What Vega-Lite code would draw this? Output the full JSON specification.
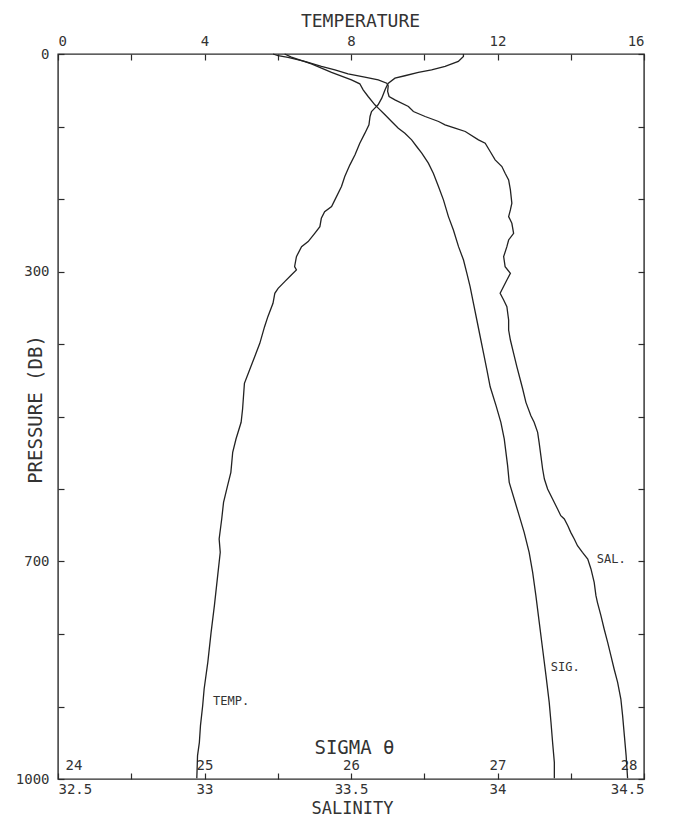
{
  "$schema": "https://vega.github.io/schema/vega-lite/v6.json",
  "width": 586,
  "height": 725,
  "autosize": {"type": "none"},
  "padding": {"left": 58, "top": 54, "right": 30, "bottom": 38},
  "background": "white",
  "config": {
    "view": {"stroke": "#2b2b2b", "strokeWidth": 1.4},
    "axis": {
      "domain": false,
      "grid": false,
      "tickColor": "#2b2b2b",
      "tickWidth": 1.2,
      "labelFont": "DejaVu Sans Mono",
      "labelFontSize": 14,
      "labelColor": "#333333",
      "labelOverlap": false,
      "titleFont": "DejaVu Sans Mono",
      "titleFontSize": 19,
      "titleFontWeight": "normal",
      "titleColor": "#333333"
    },
    "line": {"stroke": "#222222", "strokeWidth": 1.3}
  },
  "datasets": {
    "temperature": [
      {"p": 0, "t": 11.07}, {"p": 3.4, "t": 11.07}, {"p": 10.3, "t": 10.93}, {"p": 17.2, "t": 10.57},
      {"p": 21.8, "t": 10.2}, {"p": 25.4, "t": 9.84}, {"p": 30, "t": 9.47}, {"p": 33.3, "t": 9.2},
      {"p": 40.2, "t": 9.02}, {"p": 44.8, "t": 8.97}, {"p": 49.4, "t": 8.93}, {"p": 60.9, "t": 8.84},
      {"p": 70.1, "t": 8.74}, {"p": 74.7, "t": 8.65}, {"p": 79.3, "t": 8.56}, {"p": 86.2, "t": 8.52},
      {"p": 97.7, "t": 8.49}, {"p": 109.2, "t": 8.38}, {"p": 123, "t": 8.24}, {"p": 139.1, "t": 8.11},
      {"p": 152.9, "t": 7.97}, {"p": 169, "t": 7.83}, {"p": 182.8, "t": 7.74}, {"p": 201.2, "t": 7.56},
      {"p": 210.4, "t": 7.47}, {"p": 217.4, "t": 7.28}, {"p": 226.6, "t": 7.19}, {"p": 238.1, "t": 7.15},
      {"p": 247.3, "t": 7.01}, {"p": 258.8, "t": 6.83}, {"p": 265.7, "t": 6.65}, {"p": 279.5, "t": 6.51},
      {"p": 293.3, "t": 6.46}, {"p": 297.9, "t": 6.51}, {"p": 304.8, "t": 6.37}, {"p": 314, "t": 6.19},
      {"p": 323.2, "t": 6.01}, {"p": 330.1, "t": 5.92}, {"p": 343.9, "t": 5.87}, {"p": 362.3, "t": 5.73},
      {"p": 376.1, "t": 5.64}, {"p": 399.1, "t": 5.51}, {"p": 417.5, "t": 5.37}, {"p": 435.9, "t": 5.23},
      {"p": 454.3, "t": 5.09}, {"p": 489.7, "t": 5.04}, {"p": 508, "t": 5.0}, {"p": 531, "t": 4.86},
      {"p": 549.4, "t": 4.77}, {"p": 577, "t": 4.72}, {"p": 595.4, "t": 4.63}, {"p": 618.4, "t": 4.52},
      {"p": 641.4, "t": 4.47}, {"p": 669, "t": 4.4}, {"p": 687.4, "t": 4.43}, {"p": 719.5, "t": 4.36},
      {"p": 760.9, "t": 4.27}, {"p": 797.7, "t": 4.18}, {"p": 839.1, "t": 4.09}, {"p": 875.9, "t": 3.99},
      {"p": 898.9, "t": 3.95}, {"p": 926.4, "t": 3.89}, {"p": 949.4, "t": 3.86}, {"p": 967.8, "t": 3.81},
      {"p": 999, "t": 3.79}
    ],
    "salinity": [
      {"p": 0, "s": 33.234}, {"p": 2.4, "s": 33.251}, {"p": 4.7, "s": 33.285}, {"p": 10.3, "s": 33.342},
      {"p": 17.2, "s": 33.399}, {"p": 21.8, "s": 33.445}, {"p": 27.3, "s": 33.49}, {"p": 31.9, "s": 33.547},
      {"p": 35.6, "s": 33.593}, {"p": 40.2, "s": 33.622}, {"p": 43.9, "s": 33.627}, {"p": 51.7, "s": 33.625},
      {"p": 58.6, "s": 33.63}, {"p": 63.2, "s": 33.65}, {"p": 72.4, "s": 33.696}, {"p": 79.3, "s": 33.713},
      {"p": 86.2, "s": 33.753}, {"p": 93.1, "s": 33.799}, {"p": 97.7, "s": 33.821}, {"p": 102.3, "s": 33.855},
      {"p": 106.9, "s": 33.89}, {"p": 118.4, "s": 33.935}, {"p": 123, "s": 33.958}, {"p": 134.5, "s": 33.975},
      {"p": 146, "s": 33.992}, {"p": 155.2, "s": 34.015}, {"p": 164.4, "s": 34.026}, {"p": 173.6, "s": 34.038},
      {"p": 187.4, "s": 34.044}, {"p": 205.8, "s": 34.049}, {"p": 215, "s": 34.044}, {"p": 224.3, "s": 34.038},
      {"p": 233.5, "s": 34.049}, {"p": 247.3, "s": 34.055}, {"p": 256.5, "s": 34.038}, {"p": 265.7, "s": 34.032},
      {"p": 279.5, "s": 34.021}, {"p": 293.3, "s": 34.026}, {"p": 302.5, "s": 34.044}, {"p": 311.7, "s": 34.032},
      {"p": 330.1, "s": 34.009}, {"p": 339.3, "s": 34.021}, {"p": 348.5, "s": 34.032}, {"p": 366.9, "s": 34.038},
      {"p": 380.7, "s": 34.038}, {"p": 394.5, "s": 34.044}, {"p": 412.9, "s": 34.055}, {"p": 431.3, "s": 34.066},
      {"p": 449.7, "s": 34.078}, {"p": 462.1, "s": 34.086}, {"p": 480.5, "s": 34.097}, {"p": 498.9, "s": 34.114},
      {"p": 508, "s": 34.125}, {"p": 521.8, "s": 34.137}, {"p": 535.6, "s": 34.142}, {"p": 554, "s": 34.148},
      {"p": 572.4, "s": 34.154}, {"p": 586.2, "s": 34.16}, {"p": 600, "s": 34.171}, {"p": 613.8, "s": 34.188},
      {"p": 627.6, "s": 34.205}, {"p": 636.8, "s": 34.216}, {"p": 641.4, "s": 34.228}, {"p": 650.6, "s": 34.24},
      {"p": 659.8, "s": 34.25}, {"p": 669, "s": 34.262}, {"p": 678.2, "s": 34.273}, {"p": 687.4, "s": 34.29},
      {"p": 696.6, "s": 34.308}, {"p": 710.3, "s": 34.319}, {"p": 728.7, "s": 34.33}, {"p": 747.1, "s": 34.336},
      {"p": 756.3, "s": 34.341}, {"p": 774.7, "s": 34.353}, {"p": 793.1, "s": 34.364}, {"p": 811.5, "s": 34.376},
      {"p": 829.9, "s": 34.387}, {"p": 848.3, "s": 34.398}, {"p": 866.7, "s": 34.41}, {"p": 889.7, "s": 34.421},
      {"p": 912.6, "s": 34.427}, {"p": 940.2, "s": 34.433}, {"p": 967.8, "s": 34.439}, {"p": 999, "s": 34.444}
    ],
    "sigma": [
      {"p": 0, "g": 25.547}, {"p": 4.3, "g": 25.593}, {"p": 13.5, "g": 25.73}, {"p": 25.4, "g": 25.867},
      {"p": 35.6, "g": 26.003}, {"p": 41.1, "g": 26.06}, {"p": 49.4, "g": 26.083}, {"p": 58.6, "g": 26.117},
      {"p": 70.1, "g": 26.163}, {"p": 74.7, "g": 26.186}, {"p": 83.9, "g": 26.232}, {"p": 93.1, "g": 26.277},
      {"p": 102.3, "g": 26.323}, {"p": 109.2, "g": 26.368}, {"p": 118.4, "g": 26.414}, {"p": 127.6, "g": 26.448},
      {"p": 136.8, "g": 26.483}, {"p": 150.6, "g": 26.528}, {"p": 164.4, "g": 26.562}, {"p": 182.8, "g": 26.597},
      {"p": 201.2, "g": 26.631}, {"p": 224.3, "g": 26.665}, {"p": 242.7, "g": 26.699}, {"p": 265.7, "g": 26.734},
      {"p": 284.1, "g": 26.768}, {"p": 302.5, "g": 26.791}, {"p": 320.9, "g": 26.813}, {"p": 343.9, "g": 26.836},
      {"p": 366.9, "g": 26.859}, {"p": 390, "g": 26.882}, {"p": 413, "g": 26.905}, {"p": 436, "g": 26.928},
      {"p": 459, "g": 26.95}, {"p": 485, "g": 26.99}, {"p": 508, "g": 27.023}, {"p": 531, "g": 27.046},
      {"p": 567.8, "g": 27.069}, {"p": 590.8, "g": 27.08}, {"p": 613.8, "g": 27.114}, {"p": 636.8, "g": 27.148},
      {"p": 659.8, "g": 27.182}, {"p": 687.4, "g": 27.216}, {"p": 715, "g": 27.24}, {"p": 747.1, "g": 27.262},
      {"p": 783.9, "g": 27.285}, {"p": 820.7, "g": 27.308}, {"p": 857.5, "g": 27.331}, {"p": 894.3, "g": 27.353},
      {"p": 921.8, "g": 27.365}, {"p": 949.4, "g": 27.376}, {"p": 977, "g": 27.388}, {"p": 999, "g": 27.388}
    ],
    "labels": [
      {"series": "TEMP", "label": "TEMP.", "p": 892, "value": 3.96},
      {"series": "SAL", "label": "SAL.", "p": 697, "value": 34.308},
      {"series": "SIG", "label": "SIG.", "p": 845, "value": 27.323}
    ]
  },
  "resolve": {"scale": {"x": "independent"}, "axis": {"x": "independent", "y": "independent"}},
  "layer": [
    {
      "data": {"name": "temperature"},
      "mark": {"type": "line"},
      "encoding": {
        "y": {
          "field": "p", "type": "quantitative",
          "scale": {"domain": [0, 1000], "reverse": true, "nice": false, "zero": false},
          "axis": {
            "orient": "left",
            "values": [0, 100, 200, 300, 400, 500, 600, 700, 800, 900, 1000],
            "format": "d",
            "labelExpr": "datum.value == 0 || datum.value == 300 || datum.value == 700 || datum.value == 1000 ? datum.label : ''",
            "tickSize": -6,
            "labelPadding": 15,
            "title": "PRESSURE (DB)",
            "titleAngle": -90,
            "titleX": -23,
            "titleY": 355,
            "titleAlign": "center",
            "titleBaseline": "middle"
          }
        },
        "x": {
          "field": "t", "type": "quantitative",
          "scale": {"domain": [0, 16], "nice": false, "zero": false},
          "axis": {
            "orient": "top",
            "values": [0, 2, 4, 6, 8, 10, 12, 14, 16],
            "format": "d",
            "labelExpr": "datum.value % 4 == 0 ? datum.label : ''",
            "tickSize": -6,
            "labelPadding": 12,
            "title": "TEMPERATURE",
            "titleX": 302,
            "titleY": -28,
            "titleFontSize": 18,
            "titleAlign": "center",
            "titleBaseline": "alphabetic"
          }
        },
        "order": {"field": "p", "type": "quantitative"}
      }
    },
    {
      "data": {"name": "salinity"},
      "mark": {"type": "line"},
      "encoding": {
        "y": {
          "field": "p", "type": "quantitative",
          "axis": {
            "orient": "right",
            "values": [0, 100, 200, 300, 400, 500, 600, 700, 800, 900, 1000],
            "labels": false,
            "tickSize": -6,
            "title": null
          }
        },
        "x": {
          "field": "s", "type": "quantitative",
          "scale": {"domain": [32.5, 34.5], "nice": false, "zero": false},
          "axis": {
            "orient": "bottom",
            "values": [32.5, 32.75, 33, 33.25, 33.5, 33.75, 34, 34.25, 34.5],
            "format": ".2~f",
            "labelExpr": "(datum.value * 2) % 1 == 0 ? datum.label : ''",
            "tickSize": -6,
            "labelPadding": 9,
            "title": "SALINITY",
            "titleX": 294,
            "titleY": 34,
            "titleFontSize": 17,
            "titleAlign": "center",
            "titleBaseline": "alphabetic"
          }
        },
        "order": {"field": "p", "type": "quantitative"}
      }
    },
    {
      "data": {"name": "sigma"},
      "mark": {"type": "line"},
      "encoding": {
        "y": {"field": "p", "type": "quantitative", "axis": null},
        "x": {
          "field": "g", "type": "quantitative",
          "scale": {"domain": [24, 28], "nice": false, "zero": false},
          "axis": {
            "orient": "bottom",
            "values": [24, 25, 26, 27, 28],
            "format": "d",
            "ticks": false,
            "labelPadding": -21,
            "labelFlush": true,
            "labelFlushOffset": -7,
            "title": "SIGMA θ",
            "titleX": 296,
            "titleY": -26,
            "titleAlign": "center",
            "titleBaseline": "alphabetic"
          }
        },
        "order": {"field": "p", "type": "quantitative"}
      }
    },
    {
      "data": {"name": "labels"},
      "transform": [{"filter": "datum.series == 'TEMP'"}],
      "mark": {"type": "text", "align": "left", "baseline": "middle", "dx": 10, "font": "DejaVu Sans Mono", "fontSize": 12, "fill": "#333333"},
      "encoding": {
        "x": {"field": "value", "type": "quantitative", "scale": {"domain": [0, 16], "nice": false, "zero": false}, "axis": null},
        "y": {"field": "p", "type": "quantitative", "axis": null},
        "text": {"field": "label"}
      }
    },
    {
      "data": {"name": "labels"},
      "transform": [{"filter": "datum.series == 'SAL'"}],
      "mark": {"type": "text", "align": "left", "baseline": "middle", "dx": 9, "font": "DejaVu Sans Mono", "fontSize": 12, "fill": "#333333"},
      "encoding": {
        "x": {"field": "value", "type": "quantitative", "scale": {"domain": [32.5, 34.5], "nice": false, "zero": false}, "axis": null},
        "y": {"field": "p", "type": "quantitative", "axis": null},
        "text": {"field": "label"}
      }
    },
    {
      "data": {"name": "labels"},
      "transform": [{"filter": "datum.series == 'SIG'"}],
      "mark": {"type": "text", "align": "left", "baseline": "middle", "dx": 6, "font": "DejaVu Sans Mono", "fontSize": 12, "fill": "#333333"},
      "encoding": {
        "x": {"field": "value", "type": "quantitative", "scale": {"domain": [24, 28], "nice": false, "zero": false}, "axis": null},
        "y": {"field": "p", "type": "quantitative", "axis": null},
        "text": {"field": "label"}
      }
    }
  ]
}
